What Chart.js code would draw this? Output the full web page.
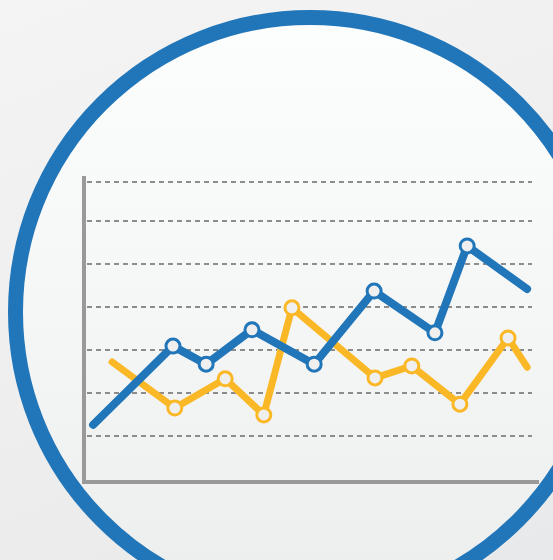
<!DOCTYPE html>
<html>
<head>
<meta charset="utf-8">
<script src="https://cdn.jsdelivr.net/npm/chart.js@4.4.0/dist/chart.umd.min.js"></script>
<style>
  html, body { margin: 0; padding: 0; }
  body {
    width: 553px; height: 560px; overflow: hidden; position: relative;
    background: linear-gradient(160deg, #f4f4f4 0%, #eeeeee 55%, #e8e9ea 100%);
  }
  #ring {
    position: absolute; left: 8px; top: 10px; width: 604px; height: 604px;
    box-sizing: border-box; border: 15px solid #2176b9; border-radius: 50%;
    background: linear-gradient(180deg, #fcfdfd 0%, #f5f6f6 50%, #eceded 100%);
  }
  #wrap { position: absolute; left: 0; top: 0; width: 553px; height: 560px; }
</style>
</head>
<body>
<div id="ring"></div>
<div id="wrap"><canvas id="myChart"></canvas></div>
<script>
// data
const blueX = [0.2, 1.96, 2.69, 3.7, 5.07, 6.39, 7.73, 8.44, 9.76];
const blueY = [1.26, 3.09, 2.67, 3.47, 2.67, 4.37, 3.4, 5.42, 4.42];
const yellowX = [0.62, 2.0, 3.11, 3.96, 4.58, 6.41, 7.22, 8.28, 9.34, 9.76];
const yellowY = [2.72, 1.65, 2.33, 1.49, 3.98, 2.35, 2.63, 1.74, 3.28, 2.6];
const gridLevels = [1, 2, 3, 4, 5, 6, 6.9];

const toPoints = (xs, ys) => xs.map((x, i) => ({ x: x, y: ys[i] }));
// no marker on the first and last point
const markers = (n) => Array.from({ length: n }, (_, i) => (i === 0 || i === n - 1) ? 0 : 7);

// dashed grid lines, a bit shorter than the x axis
const dashedGrid = {
  id: 'dashedGrid',
  beforeDatasetsDraw(chart) {
    const { ctx, chartArea, scales: { y } } = chart;
    ctx.save();
    ctx.strokeStyle = '#8c8c8c';
    ctx.lineWidth = 2;
    ctx.setLineDash([5, 4]);
    gridLevels.forEach(v => {
      const py = Math.round(y.getPixelForValue(v)) + 0.0;
      ctx.beginPath();
      ctx.moveTo(chartArea.left + 3, py);
      ctx.lineTo(chartArea.right - 6, py);
      ctx.stroke();
    });
    ctx.restore();
  }
};

const ctx = document.getElementById('myChart');

new Chart(ctx, {
  type: 'line',
  data: {
    datasets: [{
      label: 'Blue',
      data: toPoints(blueX, blueY),
      borderColor: '#2176b9',
      borderWidth: 8,
      borderCapStyle: 'round',
      borderJoinStyle: 'round',
      pointRadius: markers(blueX.length),
      pointBackgroundColor: '#efefef',
      pointBorderColor: '#2176b9',
      pointBorderWidth: 3,
      order: 0
    }, {
      label: 'Yellow',
      data: toPoints(yellowX, yellowY),
      borderColor: '#fbb826',
      borderWidth: 7,
      borderCapStyle: 'round',
      borderJoinStyle: 'round',
      pointRadius: markers(yellowX.length),
      pointBackgroundColor: '#efefef',
      pointBorderColor: '#fbb826',
      pointBorderWidth: 3,
      order: 1
    }]
  },
  options: {
    responsive: true,
    maintainAspectRatio: false,
    animation: false,
    layout: { padding: { left: 84, right: 15, top: 178, bottom: 78 } },
    plugins: { legend: { display: false }, tooltip: { enabled: false } },
    scales: {
      x: {
        type: 'linear',
        min: 0,
        max: 10,
        ticks: { display: false },
        grid: { display: false, drawTicks: false },
        border: { display: true, color: '#999999', width: 4 }
      },
      y: {
        min: -0.07,
        max: 7.0,
        afterBuildTicks: (scale) => { scale.ticks = gridLevels.map(v => ({ value: v })); },
        ticks: { display: false },
        grid: { display: false, drawTicks: false },
        border: { display: true, color: '#999999', width: 4 }
      }
    }
  },
  plugins: [dashedGrid]
});
</script>
</body>
</html>
